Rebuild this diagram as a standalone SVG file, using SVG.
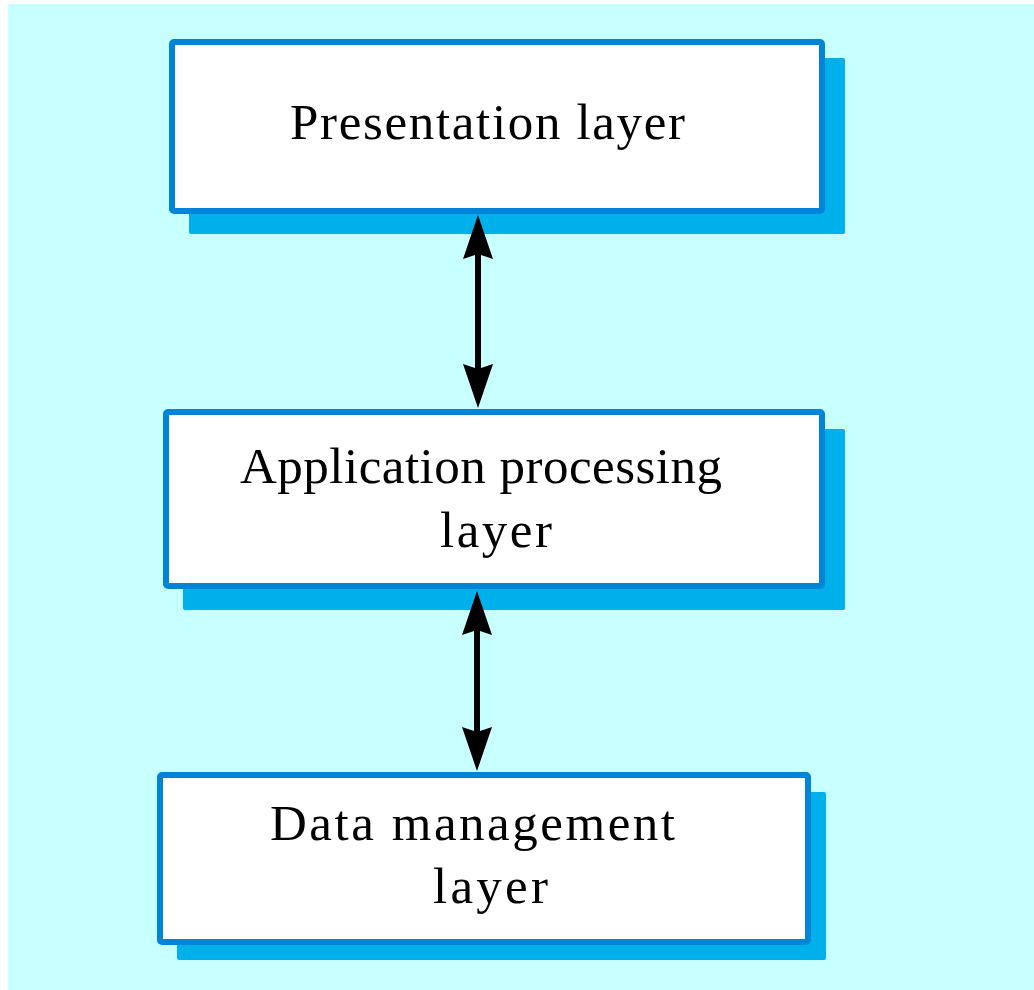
<svg xmlns="http://www.w3.org/2000/svg" xmlns:xlink="http://www.w3.org/1999/xlink" width="1034" height="990" viewBox="0 0 1034 990">
  <style>
    .shadow { fill: #00b0ea; }
    .box { fill: #ffffff; stroke: #0084d8; stroke-width: 6; }
    .label { font-family: "Liberation Serif", "Times New Roman", serif; font-size: 51px; fill: #000000; }
    .link { stroke: #000000; stroke-width: 6; fill: none; }
    .head { fill: #000000; }
  </style>
  <defs>
    <!-- arrowhead pointing up, tip at origin -->
    <path id="head" class="head" d="M0,0 L15,44 L0,39 L-15,44 Z"/>
  </defs>

  <rect x="0" y="0" width="1034" height="990" fill="#ffffff"/>
  <rect x="8" y="4" width="1026" height="986" fill="#c8ffff"/>

  <g id="presentation">
    <rect class="shadow" x="189" y="58" width="656" height="176" rx="2"/>
    <rect class="box" x="172" y="42" width="650" height="169" rx="2"/>
    <text class="label" x="290" y="139" textLength="395" lengthAdjust="spacing">Presentation layer</text>
  </g>

  <g id="application">
    <rect class="shadow" x="183" y="429" width="662" height="181" rx="2"/>
    <rect class="box" x="166" y="412" width="656" height="174" rx="2"/>
    <text class="label" x="240" y="483" textLength="482" lengthAdjust="spacing">Application processing</text>
    <text class="label" x="440" y="547" textLength="112" lengthAdjust="spacing">layer</text>
  </g>

  <g id="data">
    <rect class="shadow" x="177" y="792" width="649" height="168" rx="2"/>
    <rect class="box" x="160" y="775" width="648" height="167" rx="2"/>
    <text class="label" x="270" y="840" textLength="405" lengthAdjust="spacing">Data management</text>
    <text class="label" x="433" y="903" textLength="115" lengthAdjust="spacing">layer</text>
  </g>

  <g id="connectors">
    <line class="link" x1="478" y1="250" x2="478" y2="372"/>
    <use xlink:href="#head" transform="translate(478,215)"/>
    <use xlink:href="#head" transform="translate(478,408) rotate(180)"/>

    <line class="link" x1="477" y1="626" x2="477" y2="736"/>
    <use xlink:href="#head" transform="translate(477,591)"/>
    <use xlink:href="#head" transform="translate(477,771) rotate(180)"/>
  </g>
</svg>
